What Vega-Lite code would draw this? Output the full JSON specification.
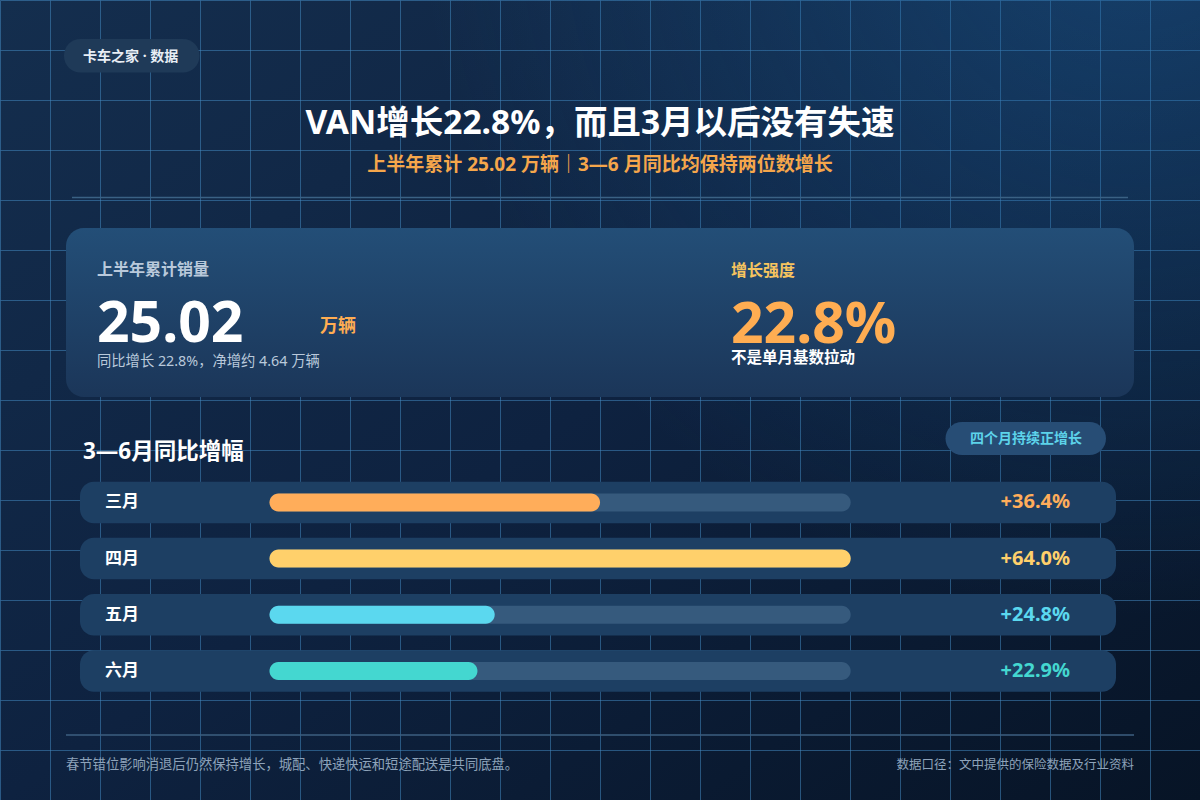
{
  "$schema": "https://vega.github.io/schema/vega-lite/v6.json",
  "width": 1200,
  "height": 800,
  "autosize": {"type": "none"},
  "padding": 0,
  "background": "#0c1f36",
  "view": {
    "stroke": null,
    "fill": {"gradient": "linear", "x1": 0, "y1": 0, "x2": 1, "y2": 1,
      "stops": [{"offset": 0, "color": "#142e4e"}, {"offset": 0.5, "color": "#0e2240"}, {"offset": 1, "color": "#071426"}]}
  },
  "config": {
    "font": "Noto Sans, Noto Sans CJK SC",
    "text": {"font": "Noto Sans, Noto Sans CJK SC", "baseline": "middle"}
  },
  "datasets": {
    "months": [
      {"month": "三月", "growth": 0.364},
      {"month": "四月", "growth": 0.640},
      {"month": "五月", "growth": 0.248},
      {"month": "六月", "growth": 0.229}
    ],
    "kpi": [{"sales": 25.02, "yoy": 0.228, "net": 4.64}]
  },
  "data": {"values": [{}]},
  "resolve": {"scale": {"x": "independent", "y": "independent", "color": "independent"}},
  "layer": [
    {
      "mark": {"type": "point", "opacity": 0},
      "encoding": {
        "x": {"datum": 0, "type": "quantitative",
          "scale": {"domain": [0, 1200], "range": [0, 1200], "nice": false, "zero": false},
          "axis": {"values": [0,50,100,150,200,250,300,350,400,450,500,550,600,650,700,750,800,850,900,950,1000,1050,1100,1150,1200],
            "grid": true, "labels": false, "ticks": false, "domain": false, "title": null,
            "gridColor": "#4286be", "gridOpacity": 0.55, "gridWidth": 1}},
        "y": {"datum": 0, "type": "quantitative",
          "scale": {"domain": [0, 800], "range": [0, 800], "nice": false, "zero": false},
          "axis": {"values": [0,50,100,150,200,250,300,350,400,450,500,550,600,650,700,750,800],
            "grid": true, "labels": false, "ticks": false, "domain": false, "title": null,
            "gridColor": "#4286be", "gridOpacity": 0.55, "gridWidth": 1}}
      }
    },
    {
      "mark": {"type": "rect",
        "color": {"gradient": "radial", "x1": 0.95, "y1": 0.08, "r1": 0, "x2": 0.95, "y2": 0.08, "r2": 0.6,
          "stops": [{"offset": 0, "color": "rgba(30,100,160,0.45)"}, {"offset": 1, "color": "rgba(30,100,160,0)"}]}},
      "encoding": {"x": {"value": 0}, "x2": {"value": 1200}, "y": {"value": 0}, "y2": {"value": 800}}
    },
    {
      "mark": {"type": "rect", "color": "#1f3a58", "cornerRadius": 16.5},
      "encoding": {"x": {"value": 64}, "x2": {"value": 199.5}, "y": {"value": 39}, "y2": {"value": 72.5}}
    },
    {
      "mark": {"type": "text", "text": "卡车之家 · 数据", "align": "left", "fontSize": 14, "fontWeight": "bold", "color": "#e8eef5"},
      "encoding": {"x": {"value": 83}, "y": {"value": 57}}
    },
    {
      "mark": {"type": "text", "text": "VAN增长22.8%，而且3月以后没有失速", "align": "center", "fontSize": 33.5, "fontWeight": "bold", "color": "#ffffff"},
      "encoding": {"x": {"value": 600}, "y": {"value": 124}}
    },
    {
      "mark": {"type": "text", "text": "上半年累计 25.02 万辆｜3—6 月同比均保持两位数增长", "align": "center", "fontSize": 19, "fontWeight": "bold", "color": "#f5a64b"},
      "encoding": {"x": {"value": 600}, "y": {"value": 165}}
    },
    {
      "mark": {"type": "rule", "color": "#3a6184", "strokeWidth": 1.5},
      "encoding": {"x": {"value": 72}, "x2": {"value": 1128}, "y": {"value": 197.5}}
    },
    {
      "mark": {"type": "rect", "cornerRadius": 18,
        "color": {"gradient": "linear", "x1": 0, "y1": 0, "x2": 0, "y2": 1,
          "stops": [{"offset": 0, "color": "#234e77"}, {"offset": 1, "color": "#1b3659"}]}},
      "encoding": {"x": {"value": 66}, "x2": {"value": 1134}, "y": {"value": 228}, "y2": {"value": 397}}
    },
    {
      "mark": {"type": "text", "text": "上半年累计销量", "align": "left", "fontSize": 16, "fontWeight": "bold", "color": "#b9c9db"},
      "encoding": {"x": {"value": 97}, "y": {"value": 270}}
    },
    {
      "data": {"name": "kpi"},
      "mark": {"type": "text", "align": "left", "baseline": "alphabetic", "fontSize": 57, "fontWeight": "bold", "color": "#ffffff"},
      "encoding": {"x": {"value": 97}, "y": {"value": 342}, "text": {"field": "sales", "type": "quantitative", "format": ".2f"}}
    },
    {
      "mark": {"type": "text", "text": "万辆", "align": "left", "fontSize": 18, "fontWeight": "bold", "color": "#ffad52"},
      "encoding": {"x": {"value": 320}, "y": {"value": 327}}
    },
    {
      "mark": {"type": "text", "text": "同比增长 22.8%，净增约 4.64 万辆", "align": "left", "fontSize": 14.3, "color": "#b9c9db"},
      "encoding": {"x": {"value": 97}, "y": {"value": 362}}
    },
    {
      "mark": {"type": "text", "text": "增长强度", "align": "left", "fontSize": 16, "fontWeight": "bold", "color": "#f6c45f"},
      "encoding": {"x": {"value": 731}, "y": {"value": 271}}
    },
    {
      "data": {"name": "kpi"},
      "mark": {"type": "text", "align": "left", "baseline": "alphabetic", "fontSize": 57, "fontWeight": "bold", "color": "#ffad52"},
      "encoding": {"x": {"value": 731}, "y": {"value": 343}, "text": {"field": "yoy", "type": "quantitative", "format": ".1%"}}
    },
    {
      "mark": {"type": "text", "text": "不是单月基数拉动", "align": "left", "fontSize": 15.5, "fontWeight": "bold", "color": "#ffffff"},
      "encoding": {"x": {"value": 731}, "y": {"value": 358}}
    },
    {
      "mark": {"type": "text", "text": "3—6月同比增幅", "align": "left", "fontSize": 22.5, "fontWeight": "bold", "color": "#ffffff"},
      "encoding": {"x": {"value": 83}, "y": {"value": 452}}
    },
    {
      "mark": {"type": "rect", "color": "#274d75", "cornerRadius": 16.5},
      "encoding": {"x": {"value": 945.5}, "x2": {"value": 1106}, "y": {"value": 422}, "y2": {"value": 455}}
    },
    {
      "mark": {"type": "text", "text": "四个月持续正增长", "align": "center", "fontSize": 14, "fontWeight": "bold", "color": "#5dd3ea"},
      "encoding": {"x": {"value": 1026}, "y": {"value": 438.5}}
    },
    {
      "data": {"name": "months"},
      "encoding": {
        "y": {"field": "month", "type": "nominal", "sort": null,
          "scale": {"domain": ["三月", "四月", "五月", "六月"], "range": [481.7, 691.7], "paddingInner": 0.261, "paddingOuter": 0},
          "axis": null}
      },
      "layer": [
        {
          "mark": {"type": "rect", "color": "#1d3f63", "cornerRadius": 14},
          "encoding": {"x": {"value": 80}, "x2": {"value": 1116}}
        },
        {
          "mark": {"type": "bar", "color": "#365a7d", "height": 18, "cornerRadius": 9},
          "encoding": {
            "x": {"datum": 0, "type": "quantitative", "scale": {"domain": [0, 0.64], "range": [269.5, 850.7], "nice": false, "zero": true}, "axis": null},
            "x2": {"datum": 0.64}
          }
        },
        {
          "mark": {"type": "bar", "height": 18, "cornerRadius": 9},
          "encoding": {
            "x": {"field": "growth", "type": "quantitative", "stack": null, "scale": {"domain": [0, 0.64], "range": [269.5, 850.7], "nice": false, "zero": true}, "axis": null},
            "x2": {"datum": 0},
            "color": {"field": "month", "type": "nominal", "scale": {"domain": ["三月", "四月", "五月", "六月"], "range": ["#ffad5a", "#ffd06b", "#5bd8ef", "#44d7d0"]}, "legend": null}
          }
        },
        {
          "mark": {"type": "text", "align": "left", "fontSize": 17, "fontWeight": "bold", "color": "#ffffff"},
          "encoding": {"x": {"value": 105}, "text": {"field": "month", "type": "nominal"}}
        },
        {
          "mark": {"type": "text", "align": "right", "fontSize": 20, "fontWeight": "bold"},
          "encoding": {
            "x": {"value": 1070},
            "text": {"field": "growth", "type": "quantitative", "format": "+.1%"},
            "color": {"field": "month", "type": "nominal", "scale": {"domain": ["三月", "四月", "五月", "六月"], "range": ["#ffad5a", "#ffd06b", "#5bd8ef", "#44d7d0"]}, "legend": null}
          }
        }
      ]
    },
    {
      "mark": {"type": "rule", "color": "#3d5f80", "strokeWidth": 1.5},
      "encoding": {"x": {"value": 66}, "x2": {"value": 1134}, "y": {"value": 735}}
    },
    {
      "mark": {"type": "text", "text": "春节错位影响消退后仍然保持增长，城配、快递快运和短途配送是共同底盘。", "align": "left", "fontSize": 13.3, "color": "#8ea3ba"},
      "encoding": {"x": {"value": 66}, "y": {"value": 765}}
    },
    {
      "mark": {"type": "text", "text": "数据口径：文中提供的保险数据及行业资料", "align": "right", "fontSize": 12.5, "color": "#8ea3ba"},
      "encoding": {"x": {"value": 1134}, "y": {"value": 765}}
    }
  ]
}
